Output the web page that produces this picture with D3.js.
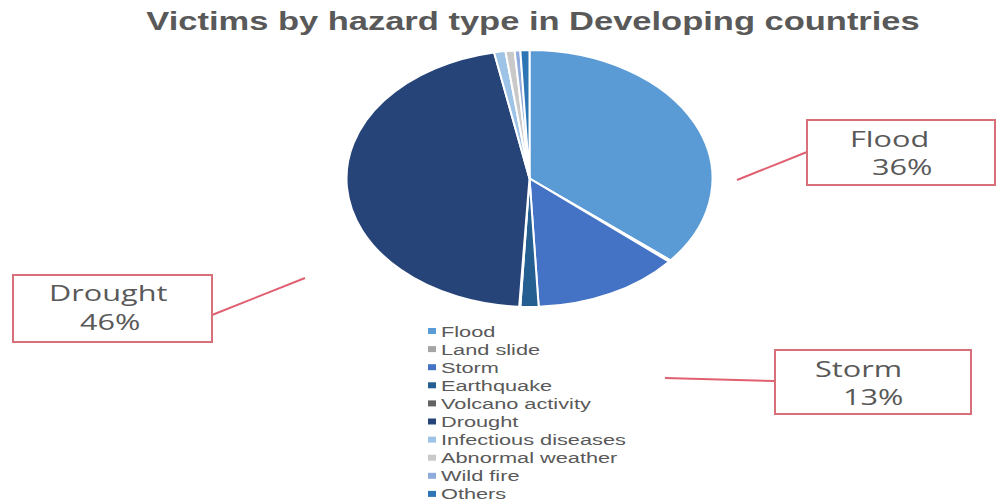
<!DOCTYPE html>
<html><head><meta charset="utf-8">
<script src="https://cdn.jsdelivr.net/npm/d3@7"></script>
<style>body{margin:0;background:#fff}svg{display:block}</style>
</head><body>
<svg id="c" width="998" height="501"></svg>
<script>
const categories = ["Flood","Land slide","Storm","Earthquake","Volcano activity","Drought","Infectious diseases","Abnormal weather","Wild fire","Others"];
const values = [36, 0.2, 13, 1.6, 0.1, 46, 1.0, 0.8, 0.5, 0.8];
const colors = ["#5b9bd5","#a5a5a5","#4472c4","#255e91","#636363","#264478","#9dc3e6","#c9c9c9","#8faadc","#2e75b6"];
const callouts = [
  {name:"Flood", pct:"36%"},
  {name:"Drought", pct:"46%"},
  {name:"Storm", pct:"13%"}
];
const title = "Victims by hazard type in Developing countries";

const svg = d3.select("#c");
const stretchText = (sel, x, y, s) => sel.attr("transform", `translate(${x},${y}) scale(${s},1)`);

stretchText(svg.append("text"), 533, 30, 1.38).attr("text-anchor","middle")
  .attr("font-family","Liberation Sans, Arial, sans-serif").attr("font-weight","bold")
  .attr("font-size",25).attr("fill","#595959").text(title);

const cx = 529.5, cy = 178.5, rx = 183, ry = 128.5;
const pie = d3.pie().sort(null).value(d=>d);
const arc = d3.arc().innerRadius(0).outerRadius(ry);
const g = svg.append("g").attr("transform",`translate(${cx},${cy}) scale(${rx/ry},1)`);
g.selectAll("path").data(pie(values)).join("path")
  .attr("d",arc).attr("fill",(d,i)=>colors[i])
  .attr("stroke","#fff").attr("stroke-width",2).style("vector-effect","non-scaling-stroke");

// legend
const lg = svg.append("g").attr("transform","translate(428,331)");
const rowH = 18.1;
categories.forEach((c,i)=>{
  const r = lg.append("g").attr("transform",`translate(0,${i*rowH})`);
  r.append("rect").attr("x",0).attr("y",-3).attr("width",8).attr("height",6).attr("fill",colors[i]);
  stretchText(r.append("text"), 13, 5.5, 1.5).attr("font-family","Liberation Sans, Arial, sans-serif")
    .attr("font-size",14.5).attr("fill","#595959").text(c);
});

// callouts
const boxes = [
  {x:807,y:120,w:188,h:65, l:[737,180,807,152], t1:[850,147], t2:[872,175]},
  {x:13,y:275,w:199,h:67, l:[212,315,305,278], t1:[49,301], t2:[80,330]},
  {x:775,y:350,w:196,h:64, l:[665,378,775,381], t1:[815,377], t2:[843,405]}
];
callouts.forEach((c,i)=>{
  const b = boxes[i];
  svg.append("line").attr("x1",b.l[0]).attr("y1",b.l[1]).attr("x2",b.l[2]).attr("y2",b.l[3])
    .attr("stroke","#e06070").attr("stroke-width",2);
  svg.append("rect").attr("x",b.x).attr("y",b.y).attr("width",b.w).attr("height",b.h)
    .attr("fill","#fff").attr("stroke","#d8707a").attr("stroke-width",2);
  stretchText(svg.append("text"), b.t1[0], b.t1[1], 1.46).attr("font-family","Open Sans, sans-serif")
    .attr("font-size",21).attr("fill","#595959").text(c.name);
  stretchText(svg.append("text"), b.t2[0], b.t2[1], 1.46).attr("font-family","Open Sans, sans-serif")
    .attr("font-size",21).attr("fill","#595959").text(c.pct);
});
</script>
</body></html>
